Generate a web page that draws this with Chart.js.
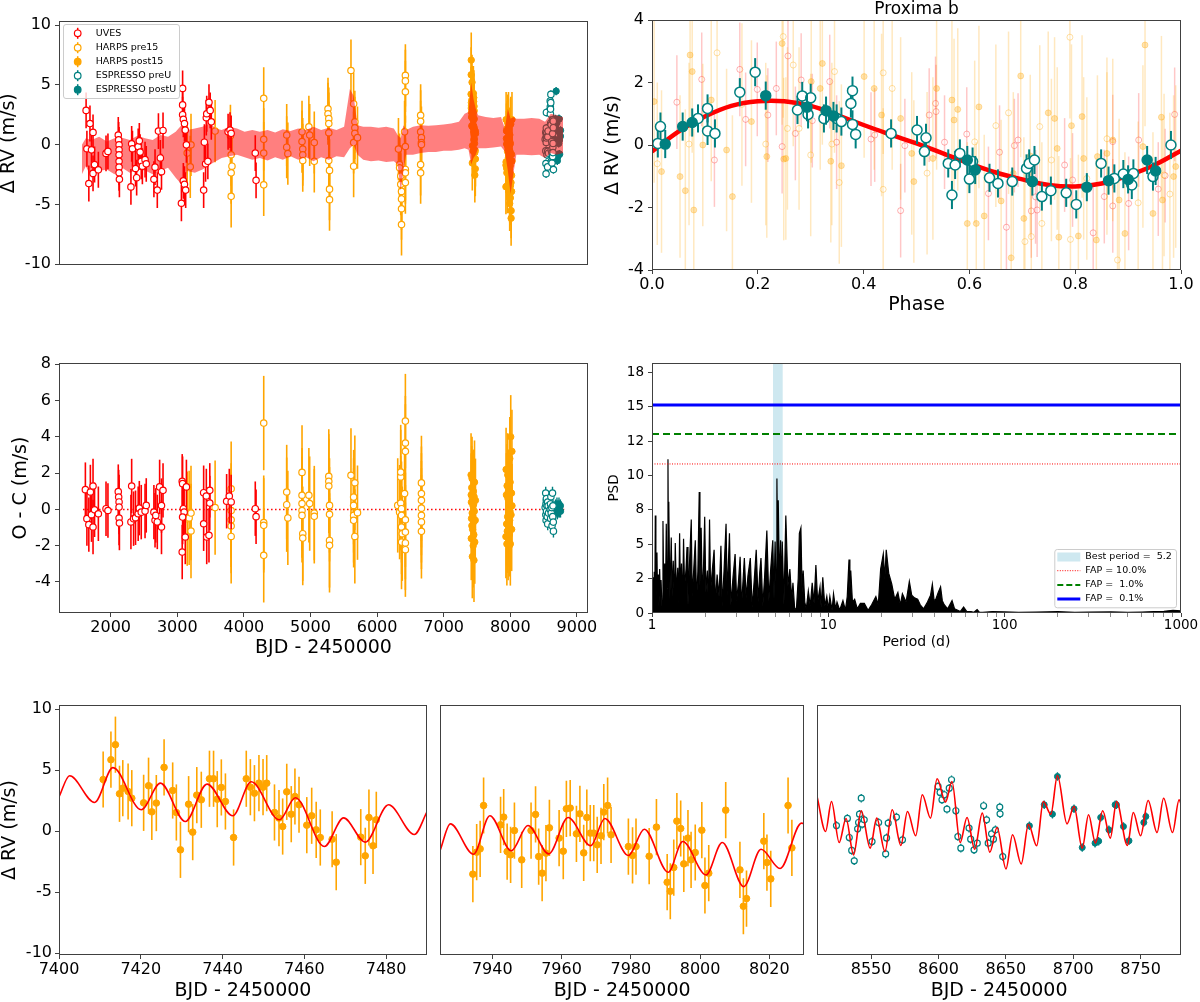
<!DOCTYPE html>
<html>
<head>
<meta charset="utf-8">
<title>Proxima b radial velocities</title>
<script src="https://cdn.jsdelivr.net/npm/chart.js@4.4.0/dist/chart.umd.min.js"></script>
<style>
  html, body { margin: 0; padding: 0; background: #fff; }
  body { position: relative; width: 1200px; height: 1002px; overflow: hidden; }
  canvas { position: absolute; }
</style>
</head>
<body>
<canvas id="rvAll"></canvas>
<canvas id="phase"></canvas>
<canvas id="resid"></canvas>
<canvas id="psd"></canvas>
<canvas id="zoom1"></canvas>
<canvas id="zoom2"></canvas>
<canvas id="zoom3"></canvas>
<script>
// Proxima b RV figure: full time series, phase fold, residuals, periodogram, three zooms

const FONT = "'DejaVu Sans', sans-serif";
const AXIS = '#404040';
const RED = '#ff0000', ORANGE = '#ffa500', TEAL = '#008080';

// ---------- labels / ticks ----------
const instrumentNames = ['UVES', 'HARPS pre15', 'HARPS post15', 'ESPRESSO preU', 'ESPRESSO postU'];
const instrumentColors = [RED, ORANGE, ORANGE, TEAL, TEAL];
const instrumentOpen = [true, true, false, true, false];
const psdLegendLabels = ['Best period =  5.2', 'FAP = 10.0%', 'FAP =  1.0%', 'FAP =  0.1%'];
const phaseTitle = 'Proxima b';

const rvTicks = [-10, -5, 0, 5, 10];
const phaseYTicks = [-4, -2, 0, 2, 4];
const phaseXTicks = [0, 0.2, 0.4, 0.6, 0.8, 1.0];
const ocYTicks = [-4, -2, 0, 2, 4, 6, 8];
const bjdTicks = [2000, 3000, 4000, 5000, 6000, 7000, 8000, 9000];
const psdYTicks = [0, 2.5, 5, 7.5, 10, 12.5, 15, 17.5];
const psdYLabels = ['0', '2', '5', '8', '10', '12', '15', '18'];
const psdXTicks = [1, 2, 3, 4, 5, 6, 7, 8, 9, 10, 20, 30, 40, 50, 60, 70, 80, 90, 100, 200, 300, 400, 500, 600, 700, 800, 900, 1000];
const psdXMajor = [1, 10, 100, 1000];
const zoom1Ticks = [7400, 7420, 7440, 7460, 7480];
const zoom2Ticks = [7940, 7960, 7980, 8000, 8020];
const zoom3Ticks = [8550, 8600, 8650, 8700, 8750];

// ---------- RV data (BJD - 2450000, m/s) ----------
const uvesT = [1631,1643,1672,1689,1712,1735,1735,1758,1815,1930,1959,2114,2120,2126,2126,2126,2126,2126,2126,2131,
  2304,2315,2327,2373,2390,2413,2430,2442,2459,2476,2516,2534,2649,2666,2700,2717,2746,2763,2786,3062,
  3080,3080,3080,3091,3108,3120,3137,3091,3108,3126,3396,3407,3425,3436,3442,3459,3476,3494,3511,3763,
  3792,3809,4171,4183];
const uvesRV = [2.87,-0.34,-3.25,1.77,-0.43,1.03,-2.40,-1.66,-2.10,-0.73,-0.56,0.81,0.40,-0.01,-0.43,-0.84,-1.39,-1.88,-2.35,-2.89,
  -3.53,0.07,-0.34,-1.99,-2.76,-0.15,0.32,-0.62,-1.39,-1.80,-1.25,-1.60,-2.89,-1.88,-3.80,1.14,-1.11,-2.26,1.19,-4.90,
  4.71,3.33,2.51,2.13,1.77,1.22,-0.01,-3.03,-3.31,-3.80,-3.80,0.21,-1.60,2.26,2.59,-1.39,3.55,2.87,1.91,1.08,
  1.22,0.95,-0.70,-2.98];
const uvesErr = 1.5;

const harpsPreT = [3149,3206,3195,3568,3798,3809,3809,3809,3821,4298,4298,4298,4298,4643,4643,4660,4873,4873,4884,4884,
  4884,4976,4988,5057,5057,5263,5263,5275,5275,5275,5275,5286,5286,5286,5608,5648,5666,5666,5666,5648,
  5648,5706,6321,6338,6338,6355,6355,6367,6367,6367,6367,6413,6425,6425,6425,6425,6425,6425,6425,6654,
  6654,6654,6666,6666,6666,6654,6654];
const harpsPreRV = [-0.70,-0.01,-1.85,1.14,0.75,-0.84,-2.35,-4.32,-1.80,3.88,0.45,-0.70,-3.36,0.81,-0.21,-0.75,1.08,0.26,-0.37,-0.84,
  -1.33,1.50,0.81,0.18,-1.39,3.00,2.59,2.18,1.77,1.00,-1.33,-2.15,-3.72,-4.60,6.21,3.42,1.91,1.41,0.95,0.18,
  -1.80,0.59,-0.37,-1.66,-1.93,-2.62,-3.31,-3.91,-4.54,-5.36,-6.68,1.08,5.80,5.34,4.43,-0.15,-2.07,-2.35,-3.17,2.46,
  1.96,1.08,0.59,0.18,0.01,-1.66,-2.35];
const harpsPreErr = 2.6;

// HARPS post15, first season (also in the 7400-7490 zoom)
const post1T = [7410.8,7412.7,7413.8,7414.8,7415.6,7416.9,7417.8,7420.7,7421.9,7422.7,7423.8,7425.7,7427.8,7428.7,7429.7,
  7431.7,7432.7,7433.7,7434.8,7436.8,7437.8,7438.7,7439.7,7440.7,7442.7,7445.8,7446.8,7447.8,7448.9,7449.9,
  7450.8,7452.7,7453.8,7454.7,7455.7,7456.8,7457.7,7458.7,7460.6,7461.8,7462.9,7463.9,7466.8,7467.8,7473.8,
  7474.9,7475.8,7476.8,7477.6];
const post1RV = [4.23,5.85,7.08,3.06,3.52,3.25,2.70,2.32,3.72,1.58,2.30,5.22,3.33,1.53,-1.53,
  2.21,-0.08,2.95,2.57,4.29,4.29,2.62,3.58,2.43,-0.52,4.29,3.60,3.11,3.93,3.60,
  3.93,1.53,1.07,0.38,3.22,1.39,2.84,2.16,0.49,1.26,0.11,-0.52,-0.66,-2.54,-0.49,
  -2.02,1.12,-1.20,0.93];
// HARPS post15, second season
const post2T = [7934.4,7935.5,7936.5,7937.5,7942.4,7943.3,7944.3,7945.3,7946.4,7948.5,7951.2,7952.5,7953.4,7954.4,7955.5,
  7956.5,7959.3,7960.5,7961.4,7962.5,7964.3,7965.3,7966.4,7967.3,7968.3,7969.3,7970.3,7971.4,7972.2,7973.3,
  7974.3,7979.3,7980.5,7981.5,7985.3,7987.4,7990.5,7991.4,7992.4,7993.3,7994.4,7995.3,7996.5,7997.4,7998.6,
  8000.5,8001.4,8002.5,8007.4,8011.5,8012.5,8013.4,8018.4,8019.3,8020.4,8025.4,8026.5];
const post2RV = [-3.52,-1.72,-1.45,2.10,0.52,1.15,-1.67,-1.94,0.05,-2.35,0.05,1.37,-2.08,-3.44,-1.80,
  0.27,-0.57,-1.64,1.83,1.89,-0.22,1.42,-1.78,1.12,-0.16,-0.16,-1.12,-0.38,1.56,2.10,
  -0.30,-1.26,-1.99,-1.26,-2.05,0.33,-4.18,-4.92,-2.98,0.82,0.22,-2.68,-0.57,-2.35,-1.75,
  0.08,-4.45,-3.44,1.72,-3.17,-6.15,-5.52,-0.82,-2.57,-3.91,2.10,-1.37];
const harpsPostErr = 2.3;

const espPreT = [8524.3,8532.4,8533.8,8535.6,8537.5,8540.0,8540.7,8541.4,8542.7,8543.4,8544.9,8550.7,8555.6,8560.8,8561.5,
  8562.7,8568.8,8573.3,8599.7,8601.2,8602.6,8604.3,8606.3,8608.0,8609.7,8612.9,8614.4,8616.6,8622.7,8623.9,
  8626.4,8628.8,8633.5,8635.7,8636.9,8639.4,8640.8,8642.3,8645.5,8645.7,8647.7];
const espPreRV = [0.46,1.04,-0.52,-1.58,-2.43,0.19,0.71,1.39,2.70,0.57,0.93,-0.85,0.71,-1.86,-0.55,
  0.66,1.15,-0.71,3.66,3.17,2.57,2.98,1.80,3.52,4.21,1.67,-0.44,-1.39,0.25,-0.66,
  -1.53,-0.98,2.08,0.93,-0.98,-0.22,-0.66,0.11,1.97,1.42,-2.08];
const espPostT = [8667.5,8678.5,8684.6,8688.3,8700.6,8706.7,8716.2,8718.9,8720.4,8726.5,8731.1,8732.1,8737.3,8741.4,8752.4,8753.9];
const espPostRV = [0.44,2.16,1.39,4.48,1.83,-1.34,-0.98,-0.82,1.12,0.11,2.16,2.16,0.38,-0.79,0.71,1.20];
const espErr = 0.35;

// model band in the full time series
const bandT = [1568,1626,1712,1827,1942,2057,2172,2286,2401,2516,2631,2746,2861,2976,3062,3149,3264,3378,3493,3580,
  3666,3781,3896,4011,4126,4240,4355,4470,4585,4700,4815,4930,5045,5160,5275,5390,5505,5591,5648,5706,
  5792,5907,6022,6137,6252,6309,6355,6396,6436,6539,6654,6769,6884,6999,7114,7229,7315,7373,7413,7448,
  7482,7517,7631,7746,7861,7918,7964,8005,8045,8091,8206,8321,8436,8522,8608,8694,8792];
const bandHi = [0.00,0.53,0.40,0.67,0.26,0.53,0.59,0.40,0.75,0.53,0.40,0.81,0.67,1.08,1.63,1.22,1.36,1.50,1.77,1.36,
  1.22,1.50,1.36,1.08,1.22,1.08,1.22,1.03,1.30,1.14,1.36,1.22,1.50,1.22,1.41,1.22,1.50,4.65,4.10,1.63,
  1.50,1.50,1.41,1.50,1.36,0.81,0.53,1.63,1.22,1.50,1.63,1.58,1.63,1.69,1.77,1.91,2.59,2.73,5.20,3.83,
  3.00,2.46,2.32,2.24,2.32,1.36,3.00,2.18,2.32,2.18,2.18,2.24,2.18,1.91,2.59,2.46,2.32];
const bandLo = [-2.48,-1.80,-2.76,-2.21,-2.07,-2.48,-1.93,-2.35,-2.07,-2.15,-2.48,-2.21,-1.93,-2.76,-3.31,-2.21,-2.35,-2.07,-1.66,-1.39,
  -1.11,-0.97,-0.84,-1.06,-1.25,-1.11,-1.33,-1.06,-1.25,-0.97,-1.25,-1.06,-1.39,-1.06,-1.25,-0.97,-1.06,-0.29,-0.01,-0.84,
  -1.25,-1.39,-1.33,-1.44,-1.39,-1.66,-3.85,-2.21,-0.84,-0.84,-0.70,-0.62,-0.62,-0.51,-0.51,-0.43,-0.29,-0.43,-1.66,-1.11,
  -0.84,-0.29,-0.29,-0.23,-0.15,-0.56,-2.21,-4.13,-2.48,-0.84,-0.84,-0.89,-0.84,-1.11,-0.70,-0.84,-0.70];

// ---------- residuals (O - C) ----------
const ocUvesT = [1620,1643,1672,1695,1712,1735,1735,1758,1815,1930,1959,2114,2120,2126,2126,2126,2131,2304,2315,2344,
  2373,2413,2430,2459,2516,2534,2649,2666,2677,2700,2735,2763,2763,2786,3074,3080,3091,3103,3074,3120,
  3137,3080,3396,3396,3436,3442,3476,3488,3488,3741,3781,3809,4171,4183];
const ocUvesV = [1.09,-0.51,-0.84,0.96,-0.29,1.29,-0.97,-0.02,-0.24,0.04,-0.06,0.98,0.68,0.41,0.13,-0.48,-0.75,-0.69,1.29,-0.51,
  -0.46,-0.24,0.07,-0.15,-0.09,0.22,-0.15,-0.60,-0.33,-0.69,1.24,0.21,-0.97,1.05,1.55,1.42,0.04,-0.15,-2.35,-1.52,
  1.24,-0.42,0.92,-0.79,0.74,-1.52,-1.43,1.05,0.35,0.45,0.74,0.41,0.04,-0.40];
const ocPreT = [3149,3178,3206,3206,3568,3809,3809,3809,3809,3809,4298,4298,4298,4298,4643,4643,4660,4873,4873,4873,
  4873,4873,4884,4884,4976,4988,5057,5057,5275,5275,5275,5286,5286,5286,5286,5608,5648,5648,5666,5648,
  5648,5666,5706,6310,6338,6355,6355,6355,6367,6367,6367,6378,6367,6413,6425,6425,6425,6425,6425,6425,
  6425,6666,6666,6666,6666,6666,6666,6666];
const ocPreV = [-0.51,-0.47,-1.19,-0.20,0.10,1.14,-0.06,-0.57,-0.92,-1.49,4.76,-0.73,-0.88,-2.53,0.96,0.26,-0.47,2.04,0.78,0.32,
  -0.06,-0.33,-1.34,-1.58,0.78,0.32,-0.20,-0.38,1.82,1.55,1.29,0.22,-0.27,-1.71,-1.98,1.88,0.68,0.22,1.47,-0.33,
  -0.60,-1.49,-0.18,0.22,-0.15,1.79,2.06,0.35,0.04,-0.33,-0.97,-1.34,-1.80,0.87,4.87,3.66,3.20,-0.57,-1.25,-1.85,
  -2.22,1.46,0.87,0.50,0.07,-0.33,-0.69,-1.21];
const ocPostT = [7411,7413,7414,7416,7418,7421,7423,7426,7428,7430,7432,7434,7437,7439,7441,7443,7446,7448,7450,7453,
  7455,7457,7460,7463,7467,7474,7477,7934,7937,7942,7945,7949,7952,7955,7960,7962,7965,7968,7972,7974,
  7980,7985,7988,7991,7993,7996,7998,8001,8007,8012,8019,8021,8025,8026];
const ocPostV = [1.9,0.8,-1.6,0.4,-0.5,1.2,-0.9,1.7,-0.2,-2.6,0.6,-1.1,0.9,-0.4,0.2,-2.0,1.0,-0.7,0.3,-1.4,
  -2.8,0.7,-0.1,1.5,-1.8,-0.6,0.5,-1.5,2.2,0.8,-0.8,-1.9,1.3,-1.2,-0.4,1.9,0.6,-1.6,1.0,-0.2,
  -0.9,-1.4,0.4,-0.6,2.8,-0.1,1.5,-1.9,4.0,-0.3,0.9,-1.1,3.2,0.2];
const ocEspPreT = [8524,8532,8534,8536,8538,8541,8543,8545,8551,8556,8561,8562,8569,8574,8600,8604,8606,8610,8615,8623,
  8627,8634,8637,8641,8646,8648];
const ocEspPreV = [0.1,0.9,-0.3,0.3,-0.6,0.5,0.6,-0.1,0.2,-0.4,0.4,-0.8,0.2,-0.2,0.0,0.3,-0.5,0.7,-0.2,0.1,
  -0.9,0.9,-0.4,0.2,-0.7,-1.2];
const ocEspPostT = [8668,8679,8685,8688,8701,8707,8716,8719,8726,8731,8737,8741,8752,8754];
const ocEspPostV = [-0.1,0.2,-0.1,0.1,0.3,-0.2,0.0,-0.1,0.1,0.3,-0.1,0.0,0.2,-0.1];
const zeroLineT = [1585, 8810];
const zeroLineV = [0, 0];

// ---------- phase-folded data ----------
const phaseGrid = [0,0.05,0.1,0.15,0.2,0.25,0.3,0.35,0.4,0.45,0.5,0.55,0.6,0.65,0.7,0.75,0.8,0.85,0.9,0.95,1.0];
const phaseModel = [-0.21,0.43,0.91,1.25,1.40,1.40,1.25,0.96,0.64,0.34,0.05,-0.27,-0.59,-0.88,-1.10,-1.28,-1.33,-1.23,-0.98,-0.64,-0.18];
const espPhPreX = [0.016,0.011,0.087,0.105,0.105,0.119,0.166,0.195,0.275,0.284,0.295,0.300,0.325,0.349,0.358,0.376,0.379,0.379,0.385,0.452,
  0.501,0.515,0.518,0.560,0.567,0.573,0.582,0.600,0.606,0.638,0.654,0.681,0.708,0.713,0.723,0.737,0.754,0.783,0.802,0.849,
  0.874,0.891,0.907,0.910,0.947,0.981];
const espPhPreY = [0.59,0.05,0.85,1.17,0.45,0.37,1.69,2.33,1.12,1.57,0.98,1.51,0.85,0.85,0.75,1.33,1.74,0.66,0.34,0.37,
  0.48,-0.21,0.23,-0.59,-1.60,-0.64,-0.27,-1.09,-0.53,-1.05,-1.23,-1.17,-0.75,-0.59,-0.48,-1.65,-1.46,-1.53,-1.90,-0.59,
  -1.07,-0.93,-1.28,-0.91,-1.01,0.00];
const espPhPostX = [0.025,0.058,0.076,0.215,0.293,0.329,0.343,0.596,0.611,0.719,0.822,0.863,0.900,0.936,0.952];
const espPhPostY = [0.03,0.59,0.72,1.58,1.21,1.10,0.93,-0.48,-0.80,-1.17,-1.35,-1.14,-1.10,-0.48,-0.83];
const harpsPhPostX = [0.004,0.072,0.076,0.079,0.063,0.053,0.141,0.152,0.217,0.246,0.253,0.301,0.318,0.322,0.338,0.358,0.401,0.420,0.470,0.495,
  0.538,0.567,0.571,0.596,0.613,0.628,0.660,0.679,0.683,0.697,0.703,0.749,0.761,0.769,0.793,0.806,0.816,0.840,0.860,0.883,
  0.894,0.932,0.947,0.963,0.986,0.018,0.096,0.112,0.188,0.249,0.434,0.491,0.531,0.578,0.618,0.715,0.766,0.813,0.842,0.871,
  0.928,0.965,0.990];
const harpsPhPostY = [1.39,2.88,2.35,-2.08,-1.46,-1.01,-0.16,-1.65,-0.37,3.25,-0.43,2.03,1.81,2.61,-0.52,-0.66,2.19,1.81,0.85,-1.17,
  1.81,1.44,0.80,-2.51,-2.51,-2.27,-1.79,-3.61,-0.91,2.21,-2.35,1.03,0.85,-2.95,0.62,-2.91,-0.43,-3.04,-0.27,-1.76,
  -2.83,3.20,-2.19,0.89,-1.01,-0.85,0.00,1.44,0.75,-0.45,0.96,-0.27,-0.43,1.14,1.22,-0.35,-0.11,0.91,-0.37,0.16,
  -0.05,-1.76,-0.69];
const harpsPhPreX = [0.123,0.248,0.267,0.345,0.437,0.454,0.674,0.733,0.790,0.791,0.705,0.737,0.822,0.880,0.919,0.979,0.968,0.755,0.717,0.650,
  0.437,0.354,0.340,0.278,0.256,0.215,0.300,0.070,0.010,0.170,0.520,0.610,0.860];
const harpsPhPreY = [2.95,3.47,2.56,2.35,2.31,1.81,1.03,0.59,3.45,-3.02,-3.09,-2.51,-1.07,-3.68,-1.85,-1.57,-0.96,-0.48,-2.93,0.62,
  -1.42,-1.20,0.03,0.53,0.53,0.03,-0.32,0.03,-0.60,1.30,-0.90,0.10,0.20];
const uvesPhX = [0.047,0.094,0.118,0.166,0.177,0.199,0.219,0.235,0.246,0.257,0.271,0.282,0.303,0.336,0.349,0.414,0.421,0.470,0.478,0.524,
  0.536,0.537,0.553,0.595,0.636,0.657,0.670,0.685,0.692,0.717,0.728,0.725,0.780,0.795,0.834,0.871,0.871,0.855,0.901,0.920,
  0.957,0.988,0.970];
const uvesPhY = [1.37,2.10,-0.48,2.42,0.82,1.78,0.96,1.81,-0.05,2.85,0.37,2.08,0.78,2.03,0.09,0.19,0.32,-2.10,-0.02,0.96,
  1.33,1.07,0.09,0.35,-1.55,-0.23,-2.63,-0.02,0.16,-2.11,-2.08,-1.66,-0.64,-1.12,-2.81,0.11,-1.95,-1.65,-1.87,0.16,
  -1.41,0.98,-0.98];

// ---------- periodogram ----------
const psdPeriod = [1.000,1.008,1.015,1.022,1.030,1.037,1.044,1.052,1.060,1.067,
  1.075,1.085,1.095,1.105,1.115,1.125,1.140,1.154,1.165,1.180,
  1.192,1.205,1.218,1.232,1.240,1.245,1.262,1.286,1.300,1.320,
  1.340,1.355,1.375,1.400,1.418,1.434,1.450,1.470,1.490,1.510,
  1.530,1.560,1.580,1.600,1.630,1.670,1.690,1.720,1.760,1.790,
  1.820,1.853,1.870,1.900,1.930,1.960,1.990,2.020,2.060,2.090,
  2.120,2.150,2.190,2.250,2.290,2.340,2.400,2.460,2.500,2.560,
  2.630,2.670,2.750,2.800,2.880,2.960,3.020,3.090,3.160,3.220,
  3.340,3.420,3.500,3.610,3.700,3.800,3.900,4.000,4.080,4.150,
  4.250,4.350,4.480,4.600,4.700,4.840,4.920,4.990,5.050,5.110,
  5.160,5.200,5.280,5.360,5.420,5.480,5.600,5.740,5.900,6.050,
  6.200,6.300,6.450,6.600,6.750,6.850,6.990,7.100,7.200,7.350,
  7.500,7.700,7.900,8.100,8.300,8.500,8.700,8.970,9.100,9.300,
  9.550,9.800,10.00,10.20,10.50,10.70,11.00,11.20,11.60,12.10,
  12.50,12.80,13.10,13.25,13.40,13.70,14.10,14.60,15.20,16.00,
  16.80,17.60,18.60,19.20,19.80,20.50,20.90,21.30,22.00,22.90,
  23.80,24.80,25.60,26.30,27.60,28.80,29.70,30.80,32.10,33.20,
  34.70,36.50,38.00,38.90,39.80,40.70,42.00,43.30,44.30,45.40,
  47.50,50.30,52.00,54.20,56.00,58.50,61.00,64.50,67.00,69.80,
  72.00,75.00,85.00,100,120,150,200,250,300,400,
  500,600,700,800,900,950,1000];
const psdPower = [1.8,0.2,2.6,0.4,3.0,0.3,7.1,1.0,2.2,4.4,
  0.6,2.8,0.5,3.2,1.2,2.4,0.4,6.7,1.5,3.6,
  0.8,6.5,1.8,11.2,2.5,8.1,1.0,5.5,1.2,3.8,
  0.6,5.1,1.4,3.3,0.7,5.8,1.6,3.6,0.5,5.4,
  1.9,3.2,4.8,0.6,3.5,6.8,1.2,2.9,5.3,0.9,
  3.0,8.8,2.0,6.2,1.1,3.4,7.0,1.5,3.1,0.4,
  6.8,1.6,2.9,4.6,0.7,2.8,1.2,4.9,0.5,3.0,
  6.5,1.3,5.8,0.6,2.6,4.3,0.9,2.2,4.1,0.5,
  4.0,1.1,2.7,4.0,0.4,2.4,4.6,0.8,2.9,4.0,
  0.5,2.6,6.0,0.9,3.0,5.3,1.0,5.2,2.2,9.8,
  3.0,8.2,2.0,5.3,1.2,5.2,0.6,7.1,2.0,3.2,
  1.0,2.2,0.2,0.4,2.5,5.8,6.2,1.5,3.1,0.8,
  0.3,1.6,0.5,2.2,0.7,3.5,0.8,1.9,0.4,2.6,
  0.5,1.2,0.3,1.2,0.2,1.4,0.3,0.8,0.2,0.9,
  0.2,1.2,3.9,1.8,3.1,0.8,1.0,0.3,0.7,0.7,
  0.2,0.6,1.2,0.6,3.2,4.3,2.5,4.6,2.9,2.1,
  1.0,1.5,0.6,1.4,0.8,2.3,1.3,1.1,1.0,0.6,
  0.3,0.8,1.3,2.1,0.9,1.0,1.5,1.9,0.9,0.6,
  0.3,0.9,0.3,0.2,0.1,0.44,0.1,0.1,0.05,0.25,
  0.05,0.05,0.1,0.08,0.05,0.06,0.1,0.05,0.06,0.08,
  0.05,0.07,0.1,0.12,0.2,0.18,0.15];
const bestPeriodT = [4.85, 5.52];
const bestPeriodTop = [20, 20];
const fapT = [1, 1000];
const fap10 = [10.85, 10.85];
const fap1 = [13.03, 13.03];
const fap01 = [15.15, 15.15];

// ---------- model curves in the zooms ----------
const model1T = [7400,7402.6,7408.7,7413.2,7420.1,7424.8,7430.9,7436.2,7442.5,7447.0,7453.9,7457.8,7464.9,7469.6,7474.9,7480.6,7486.9,7490];
const model1RV = [2.8,4.54,2.35,5.2,1.75,3.93,0.79,3.85,1.26,4.04,0.93,2.73,-1.26,1.09,-0.9,2.16,-0.27,1.58];
const model2T = [7925,7927.9,7934.6,7939.3,7945.5,7950.3,7956.3,7961.9,7968.4,7972.5,7979.3,7983.9,7990.8,7995.0,8001.7,8006.4,8012.6,8017.6,8023.1,8029.3,8030];
const model2RV = [-1.53,0.6,-1.89,1.26,-1.61,0.46,-1.86,1.12,-1.2,1.04,-1.99,0.16,-3.36,-0.85,-3.58,-0.93,-4.54,-1.48,-3.06,0.66,0.6];
const model3T = [8510,8516.2,8520.6,8526.3,8531.4,8537.0,8542.7,8549.3,8554.2,8560.3,8565.7,8572.1,8577.0,8583.1,8588.0,
  8594.1,8599.0,8605.2,8610.0,8616.1,8621.2,8626.9,8632.5,8638.1,8643.5,8650.1,8655.0,8661.4,8666.8,8672.9,
  8677.8,8683.4,8688.3,8695.4,8700.6,8706.7,8711.4,8716.5,8721.9,8727.5,8732.2,8740.2,8744.6,8750.0,8755.6,
  8762.2,8767.1,8773.7,8778.6,8780];
const model3RV = [2.79,-0.03,2.43,-0.93,1.04,-1.94,1.67,-1.39,1.07,-1.67,1.75,-1.17,1.61,-0.38,2.98,
  1.07,4.29,2.38,4.07,-0.93,1.12,-1.48,1.48,-1.72,0.3,-3.09,-0.3,-2.68,0.57,-1.2,
  2.43,1.39,4.56,0.6,2.02,-1.39,1.34,-0.98,1.67,-0.57,2.43,-1.17,1.53,-0.38,2.51,
  -0.11,2.7,-0.11,2.57,2.24];

// ---------- helpers ----------
function pts(xs, ys) {
  return xs.map((x, i) => ({ x: x, y: ys[i] }));
}

function markers(xs, ys, o) {
  return {
    type: 'scatter',
    data: pts(xs, ys),
    pointRadius: o.r,
    pointHoverRadius: o.r,
    pointBorderWidth: o.bw,
    pointBorderColor: o.color,
    pointBackgroundColor: o.open ? (o.openFill || '#ffffff') : o.color,
    errors: o.err,
    errColor: o.errColor || o.color,
    errWidth: o.errWidth || 1.5,
    order: o.order
  };
}

function curve(xs, ys, o) {
  return {
    type: 'line',
    showLine: true,
    data: pts(xs, ys),
    borderColor: o.color || 'rgba(0,0,0,0)',
    borderWidth: o.width || 0,
    borderDash: o.dash || [],
    backgroundColor: o.bg || 'rgba(0,0,0,0)',
    fill: o.fill === undefined ? false : o.fill,
    pointRadius: 0,
    pointHoverRadius: 0,
    tension: o.tension || 0,
    cubicInterpolationMode: o.mono ? 'monotone' : 'default',
    order: o.order
  };
}

function axis(o) {
  return {
    type: o.type || 'linear',
    position: o.pos,
    min: o.min,
    max: o.max,
    display: o.display !== false,
    border: { display: false },
    grid: { display: true, drawOnChartArea: false, drawTicks: true, tickLength: 4, tickColor: AXIS, tickWidth: o.tickWidth || 1 },
    ticks: {
      color: '#000', font: { family: FONT, size: o.size || 16 }, padding: o.pad || 0,
      maxRotation: 0, autoSkip: false, callback: o.fmt || (v => String(v))
    },
    title: { display: !!o.title, text: o.title || '', color: '#000', font: { family: FONT, size: o.titleSize || 19 }, padding: 0 },
    afterBuildTicks: s => { s.ticks = o.ticks.map(v => ({ value: v })); },
    afterFit: s => {
      const f = o.fit || 0;
      if (o.pos === 'bottom') s.height = f; else s.width = f;
    }
  };
}

function drawLegend(ctx, a, L) {
  const x0 = a.left + L.dx, y0 = a.top + L.dy;
  ctx.fillStyle = 'rgba(255,255,255,0.8)';
  ctx.strokeStyle = '#cccccc';
  ctx.lineWidth = 1;
  ctx.beginPath();
  if (ctx.roundRect) ctx.roundRect(x0 + 0.5, y0 + 0.5, L.w, L.h, 2.5);
  else ctx.rect(x0 + 0.5, y0 + 0.5, L.w, L.h);
  ctx.fill();
  ctx.stroke();
  ctx.font = L.size + 'px ' + FONT;
  ctx.textBaseline = 'middle';
  ctx.textAlign = 'left';
  L.items.forEach((it, i) => {
    const y = y0 + L.rows[i];
    const hx = x0 + L.hx;
    if (it.kind === 'marker') {
      ctx.strokeStyle = it.color;
      ctx.lineWidth = 1.5;
      ctx.beginPath(); ctx.moveTo(hx, y - 5.5); ctx.lineTo(hx, y + 5.5); ctx.stroke();
      ctx.beginPath(); ctx.arc(hx, y, 3.3, 0, Math.PI * 2);
      ctx.fillStyle = it.open ? '#ffffff' : it.color;
      ctx.fill();
      ctx.lineWidth = 1.2;
      ctx.stroke();
    } else if (it.kind === 'patch') {
      ctx.fillStyle = it.color;
      ctx.fillRect(hx, y - 4.5, L.hw, 9);
    } else {
      ctx.strokeStyle = it.color;
      ctx.lineWidth = it.width;
      ctx.setLineDash(it.dash || []);
      ctx.beginPath(); ctx.moveTo(hx, y); ctx.lineTo(hx + L.hw, y); ctx.stroke();
      ctx.setLineDash([]);
    }
    ctx.fillStyle = '#000';
    ctx.fillText(it.label, x0 + L.tx, y);
  });
}

// error bars under each marker set, frame, title, legend
const panelPlugin = {
  id: 'panel',
  beforeDatasetDraw(chart, args) {
    const ds = chart.data.datasets[args.index];
    if (ds.errors === undefined) return;
    const { ctx, chartArea: a } = chart;
    const xs = chart.scales.x, ys = chart.scales.y;
    ctx.save();
    ctx.beginPath();
    ctx.rect(a.left, a.top, a.right - a.left, a.bottom - a.top);
    ctx.clip();
    ctx.strokeStyle = ds.errColor;
    ctx.lineWidth = ds.errWidth;
    ds.data.forEach((p, i) => {
      const e = Array.isArray(ds.errors) ? ds.errors[i] : ds.errors;
      const px = xs.getPixelForValue(p.x);
      ctx.beginPath();
      ctx.moveTo(px, ys.getPixelForValue(p.y - e));
      ctx.lineTo(px, ys.getPixelForValue(p.y + e));
      ctx.stroke();
    });
    ctx.restore();
  },
  afterDraw(chart, args, opts) {
    const { ctx, chartArea: a } = chart;
    ctx.save();
    ctx.strokeStyle = AXIS;
    ctx.lineWidth = 1;
    ctx.strokeRect(Math.round(a.left) + 0.5, Math.round(a.top) + 0.5,
      Math.round(a.right - a.left) - 1, Math.round(a.bottom - a.top) - 1);
    if (opts.title) {
      ctx.fillStyle = '#000';
      ctx.font = opts.title.size + 'px ' + FONT;
      ctx.textAlign = 'center';
      ctx.textBaseline = 'middle';
      ctx.fillText(opts.title.text, (a.left + a.right) / 2, a.top + opts.title.dy);
    }
    if (opts.legend) drawLegend(ctx, a, opts.legend);
    ctx.restore();
  }
};

function makeChart(id, box, cfg) {
  const c = document.getElementById(id);
  const w = Math.round(box.r - box.l + cfg.yw + cfg.padR);
  const h = Math.round(box.b - box.t + cfg.padT + cfg.xh);
  c.width = w;
  c.height = h;
  c.style.left = (box.l - cfg.yw) + 'px';
  c.style.top = (box.t - cfg.padT) + 'px';
  return new Chart(c, {
    type: 'scatter',
    data: { datasets: cfg.datasets },
    options: {
      responsive: false,
      animation: false,
      devicePixelRatio: 1,
      events: [],
      layout: { padding: { top: cfg.padT, right: cfg.padR, left: 0, bottom: cfg.noX ? cfg.xh : 0 } },
      plugins: { legend: { display: false }, tooltip: { enabled: false }, panel: cfg.panel || {} },
      scales: { x: cfg.x, y: cfg.y }
    },
    plugins: [panelPlugin]
  });
}

// ---------- top left: full RV time series ----------
makeChart('rvAll', { l: 59, t: 21, r: 588, b: 269 }, {
  yw: 61, padT: 21, padR: 14, xh: 10, noX: true,
  x: axis({ pos: 'bottom', display: false, min: 1224, max: 9167, ticks: [], fit: 0 }),
  y: axis({ pos: 'left', min: -10.1, max: 10.35, ticks: rvTicks, size: 16, pad: 4, fit: 61, title: 'Δ RV (m/s)' }),
  datasets: [
    markers(uvesT, uvesRV, { r: 3.2, bw: 1.2, color: RED, open: true, err: uvesErr, errWidth: 1.6, order: 0 }),
    curve(bandT, bandHi, { fill: '+1', bg: 'rgba(255,0,0,0.5)', order: 1 }),
    curve(bandT, bandLo, { order: 1 }),
    markers(harpsPreT, harpsPreRV, { r: 3.2, bw: 1.2, color: ORANGE, open: true, err: harpsPreErr, errWidth: 1.6, order: 2 }),
    markers(post1T, post1RV, { r: 3.2, bw: 1, color: ORANGE, err: harpsPostErr, errWidth: 1.6, order: 3 }),
    markers(post2T, post2RV, { r: 3.2, bw: 1, color: ORANGE, err: harpsPostErr, errWidth: 1.6, order: 3 }),
    markers(espPreT, espPreRV, { r: 3.2, bw: 1.2, color: TEAL, open: true, err: espErr, errWidth: 1.4, order: 4 }),
    markers(espPostT, espPostRV, { r: 3.2, bw: 1, color: TEAL, err: espErr, errWidth: 1.4, order: 5 })
  ],
  panel: {
    legend: {
      dx: 4, dy: 3, w: 116, h: 74, size: 9.5, hx: 14.7, tx: 32.7, rows: [9.3, 23.7, 37.7, 51.7, 65.7],
      items: instrumentNames.map((n, i) => ({ label: n, kind: 'marker', color: instrumentColors[i], open: instrumentOpen[i] }))
    }
  }
});

// ---------- top right: phase fold ----------
makeChart('phase', { l: 652, t: 20, r: 1181, b: 270 }, {
  yw: 50, padT: 20, padR: 18, xh: 46,
  x: axis({ pos: 'bottom', min: 0, max: 1, ticks: phaseXTicks, size: 16, pad: 1, fit: 46, title: 'Phase', fmt: v => v.toFixed(1) }),
  y: axis({ pos: 'left', min: -4, max: 4, ticks: phaseYTicks, size: 16, pad: 4, fit: 50, title: 'Δ RV (m/s)' }),
  datasets: [
    markers(espPhPostX, espPhPostY, { r: 5, bw: 1.5, color: TEAL, err: 0.45, errWidth: 2, order: 1 }),
    markers(espPhPreX, espPhPreY, { r: 5, bw: 1.5, color: TEAL, open: true, err: 0.45, errWidth: 2, order: 2 }),
    curve(phaseGrid, phaseModel, { color: RED, width: 4.5, tension: 0.4, order: 3 }),
    markers(harpsPhPostX, harpsPhPostY, { r: 3, bw: 1, color: 'rgba(255,165,0,0.3)', err: 2.6, errColor: 'rgba(255,165,0,0.25)', errWidth: 1.5, order: 4 }),
    markers(harpsPhPreX, harpsPhPreY, { r: 3, bw: 1, color: 'rgba(255,165,0,0.35)', open: true, openFill: 'rgba(255,255,255,0.3)', err: 2.6, errColor: 'rgba(255,165,0,0.25)', errWidth: 1.5, order: 5 }),
    markers(uvesPhX, uvesPhY, { r: 3, bw: 1, color: 'rgba(255,0,0,0.3)', open: true, openFill: 'rgba(255,255,255,0.3)', err: 1.5, errColor: 'rgba(255,0,0,0.22)', errWidth: 1.5, order: 6 })
  ],
  panel: { title: { text: phaseTitle, size: 17, dy: -10.7 } }
});

// ---------- middle left: residuals ----------
makeChart('resid', { l: 59, t: 363, r: 588, b: 613 }, {
  yw: 49, padT: 20, padR: 14, xh: 46,
  x: axis({ pos: 'bottom', min: 1224, max: 9167, ticks: bjdTicks, size: 16, pad: 1, fit: 46, title: 'BJD - 2450000' }),
  y: axis({ pos: 'left', min: -5.71, max: 8.07, ticks: ocYTicks, size: 16, pad: 4, fit: 49, title: 'O - C (m/s)' }),
  datasets: [
    markers(ocUvesT, ocUvesV, { r: 3.2, bw: 1.2, color: RED, open: true, err: uvesErr, errWidth: 1.6, order: 1 }),
    markers(ocPreT, ocPreV, { r: 3.2, bw: 1.2, color: ORANGE, open: true, err: harpsPreErr, errWidth: 1.6, order: 2 }),
    markers(ocPostT, ocPostV, { r: 3.2, bw: 1, color: ORANGE, err: harpsPostErr, errWidth: 1.6, order: 3 }),
    markers(ocEspPreT, ocEspPreV, { r: 3.2, bw: 1.2, color: TEAL, open: true, err: espErr, errWidth: 1.4, order: 4 }),
    markers(ocEspPostT, ocEspPostV, { r: 3.2, bw: 1, color: TEAL, err: espErr, errWidth: 1.4, order: 5 }),
    curve(zeroLineT, zeroLineV, { color: RED, width: 1.5, dash: [1.5, 2.5], order: 6 })
  ]
});

// ---------- middle right: periodogram ----------
makeChart('psd', { l: 652, t: 363, r: 1181, b: 613 }, {
  yw: 46, padT: 20, padR: 18, xh: 38,
  x: axis({ type: 'logarithmic', pos: 'bottom', min: 1, max: 1000, ticks: psdXTicks, size: 13.5, pad: 0, fit: 38,
    title: 'Period (d)', titleSize: 14, fmt: v => (psdXMajor.includes(v) ? String(v) : ''),
    tickWidth: c => (c.tick && psdXMajor.includes(c.tick.value) ? 1 : 0.6) }),
  y: axis({ pos: 'left', min: 0, max: 18.2, ticks: psdYTicks, size: 13.5, pad: 4, fit: 46, title: 'PSD', titleSize: 13.5,
    fmt: (v, i) => psdYLabels[i] }),
  datasets: [
    curve(fapT, fap01, { color: '#0000ff', width: 3, order: 1 }),
    curve(fapT, fap1, { color: '#008000', width: 2, dash: [7, 4], order: 2 }),
    curve(fapT, fap10, { color: RED, width: 1, dash: [1, 1.5], order: 3 }),
    curve(psdPeriod, psdPower, { color: '#000000', width: 1.2, fill: 'origin', bg: '#000000', order: 4 }),
    curve(bestPeriodT, bestPeriodTop, { fill: 'origin', bg: 'rgba(173,216,230,0.6)', order: 5 })
  ],
  panel: {
    legend: {
      dx: 402.3, dy: 186, w: 121.7, h: 58.3, size: 9.5, hx: 3, hw: 23, tx: 31, rows: [8, 21.7, 36, 50],
      items: [
        { label: psdLegendLabels[0], kind: 'patch', color: 'rgba(173,216,230,0.6)' },
        { label: psdLegendLabels[1], kind: 'line', color: RED, width: 1, dash: [1, 1.5] },
        { label: psdLegendLabels[2], kind: 'line', color: '#008000', width: 2, dash: [6, 3] },
        { label: psdLegendLabels[3], kind: 'line', color: '#0000ff', width: 3 }
      ]
    }
  }
});

// ---------- bottom row: zooms ----------
const zoomY = { min: -10.14, max: 10.33 };

makeChart('zoom1', { l: 59, t: 705, r: 427, b: 955 }, {
  yw: 60, padT: 20, padR: 8, xh: 47,
  x: axis({ pos: 'bottom', min: 7400, max: 7490, ticks: zoom1Ticks, size: 16, pad: 1, fit: 47, title: 'BJD - 2450000' }),
  y: axis({ pos: 'left', min: zoomY.min, max: zoomY.max, ticks: rvTicks, size: 16, pad: 3, fit: 60, title: 'Δ RV (m/s)' }),
  datasets: [
    curve(model1T, model1RV, { color: RED, width: 1.6, mono: true, order: 1 }),
    markers(post1T, post1RV, { r: 3.3, bw: 1, color: ORANGE, err: harpsPostErr, errWidth: 1.6, order: 2 })
  ]
});

makeChart('zoom2', { l: 436, t: 705, r: 804, b: 955 }, {
  yw: 0, padT: 20, padR: 8, xh: 47,
  x: axis({ pos: 'bottom', min: 7925, max: 8030, ticks: zoom2Ticks, size: 16, pad: 1, fit: 47, title: 'BJD - 2450000' }),
  y: axis({ pos: 'left', display: false, min: zoomY.min, max: zoomY.max, ticks: rvTicks, fit: 0 }),
  datasets: [
    curve(model2T, model2RV, { color: RED, width: 1.6, mono: true, order: 1 }),
    markers(post2T, post2RV, { r: 3.3, bw: 1, color: ORANGE, err: harpsPostErr, errWidth: 1.6, order: 2 })
  ]
});

makeChart('zoom3', { l: 813, t: 705, r: 1181, b: 955 }, {
  yw: 0, padT: 20, padR: 18, xh: 47,
  x: axis({ pos: 'bottom', min: 8510, max: 8780, ticks: zoom3Ticks, size: 16, pad: 1, fit: 47, title: 'BJD - 2450000' }),
  y: axis({ pos: 'left', display: false, min: zoomY.min, max: zoomY.max, ticks: rvTicks, fit: 0 }),
  datasets: [
    curve(model3T, model3RV, { color: RED, width: 1.6, mono: true, order: 1 }),
    markers(espPostT, espPostRV, { r: 3, bw: 1, color: TEAL, err: espErr, errWidth: 1.3, order: 2 }),
    markers(espPreT, espPreRV, { r: 3, bw: 1.2, color: TEAL, open: true, err: espErr, errWidth: 1.3, order: 3 })
  ]
});
</script>
</body>
</html>
